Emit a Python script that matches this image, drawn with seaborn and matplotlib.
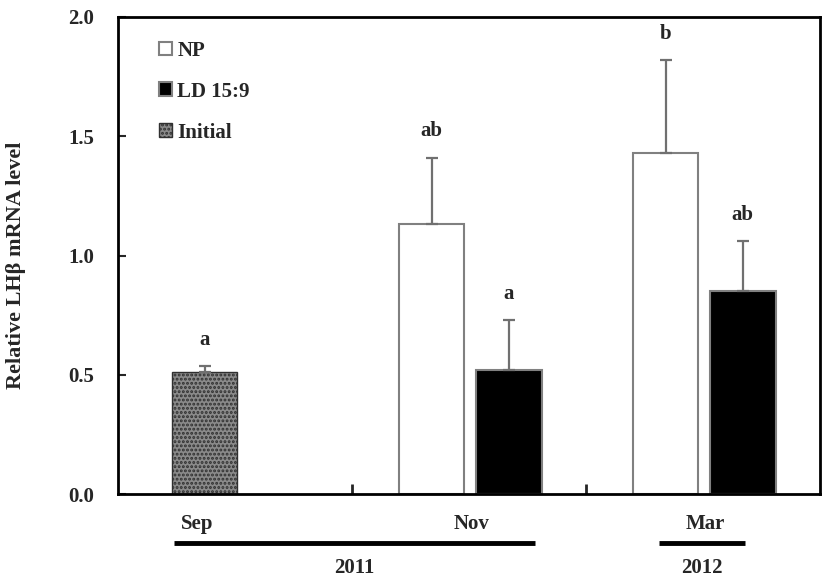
import numpy as np
import pandas as pd
import seaborn as sns
import matplotlib.pyplot as plt
import matplotlib.transforms as mtransforms

# Values
months = ['Sep', 'Nov', 'Mar']
years = ['2011', '2012']
treatments = ['NP', 'LD 15:9', 'Initial']

np_mean = [1.13, 1.43]          # Nov, Mar
np_sd = [0.28, 0.39]
np_letters = ['ab', 'b']

ld_mean = [0.52, 0.85]          # Nov, Mar
ld_sd = [0.21, 0.21]
ld_letters = ['a', 'ab']

init_mean = [0.51]              # Sep
init_sd = [0.025]
init_letters = ['a']

sns.set_style('ticks')
plt.rcParams['font.family'] = ['Liberation Serif', 'DejaVu Serif']
plt.rcParams['font.weight'] = 'bold'
plt.rcParams['hatch.linewidth'] = 1.4

# offsets of each series inside its month group
offset = {'NP': -0.16, 'LD 15:9': 0.17, 'Initial': -0.13}
bar_w = 0.28
fs = 15

rows = []
for i, m in enumerate(months[1:], start=1):
    rows.append((m, 'NP', i + offset['NP'], np_mean[i - 1], np_sd[i - 1], np_letters[i - 1]))
    rows.append((m, 'LD 15:9', i + offset['LD 15:9'], ld_mean[i - 1], ld_sd[i - 1], ld_letters[i - 1]))
rows.append(('Sep', 'Initial', 0 + offset['Initial'], init_mean[0], init_sd[0], init_letters[0]))
df = pd.DataFrame(rows, columns=['month', 'treatment', 'pos', 'value', 'sd', 'letter'])

fig = plt.figure(figsize=(8.27, 5.84), dpi=100)
ax = fig.add_axes([0.1427, 0.1541, 0.8488, 0.8168])

styles = {
    'NP': dict(color='white', edgecolor='#808080', linewidth=1.5),
    'LD 15:9': dict(color='black', edgecolor='#808080', linewidth=1.5),
    'Initial': dict(color='#8a8a8a', edgecolor='#303030', linewidth=1.0, hatch='....'),
}
for t in treatments:
    sub = df[df['treatment'] == t]
    sns.barplot(data=sub, x='pos', y='value', native_scale=True, width=bar_w,
                errorbar=None, label=t, ax=ax, **styles[t])

# upper error bars only
ax.errorbar(df['pos'], df['value'], yerr=[np.zeros(len(df)), df['sd']],
            fmt='none', ecolor='#707070', elinewidth=1.6, capsize=4, capthick=1.6)

for _, r in df.iterrows():
    ax.text(r['pos'], r['value'] + r['sd'] + 0.11, r['letter'], ha='center', va='center',
            fontsize=fs, fontweight='bold')

ax.set_xlim(-0.5, 2.5)
ax.set_ylim(0, 2.0)
ax.set_yticks(np.arange(0, 2.01, 0.5))
ax.set_yticklabels([f'{v:.1f}' for v in np.arange(0, 2.01, 0.5)], fontsize=fs, fontweight='bold')
ax.set_xticks([0.5, 1.5])
ax.set_xticklabels([])
ax.tick_params(axis='y', direction='in', length=6, width=1.5, pad=17)
ax.tick_params(axis='x', direction='in', length=7, width=2)
ax.set_xlabel('')
ax.set_ylabel('Relative LHβ mRNA level', fontsize=16, fontweight='bold')
ax.yaxis.set_label_coords(-0.131, 0.48)
for s in ax.spines.values():
    s.set_visible(True)
    s.set_linewidth(2)
    s.set_color('black')

# month labels and year bars below the axis
trans = mtransforms.blended_transform_factory(ax.transData, ax.transAxes)
month_x = [-0.16, 1.01, 2.01]
for m, x in zip(months, month_x):
    ax.text(x, -0.063, m, transform=trans, ha='center', va='center', fontsize=fs, fontweight='bold')
year_spans = [(-0.26, 1.28), (1.81, 2.18)]
for y, (x0, x1) in zip(years, year_spans):
    ax.plot([x0, x1], [-0.103, -0.103], transform=trans, color='black', lw=3.5,
            clip_on=False, solid_capstyle='butt')
    ax.text((x0 + x1) / 2, -0.156, y, transform=trans, ha='center', va='center',
            fontsize=fs, fontweight='bold')

leg = ax.legend(loc='upper left', bbox_to_anchor=(0.058, 0.95), frameon=False,
                borderaxespad=0, borderpad=0, handlelength=0.65, handleheight=0.65,
                handletextpad=0.25, labelspacing=1.0, prop={'size': fs, 'weight': 'bold'})

fig.savefig('out.png', dpi=100)
